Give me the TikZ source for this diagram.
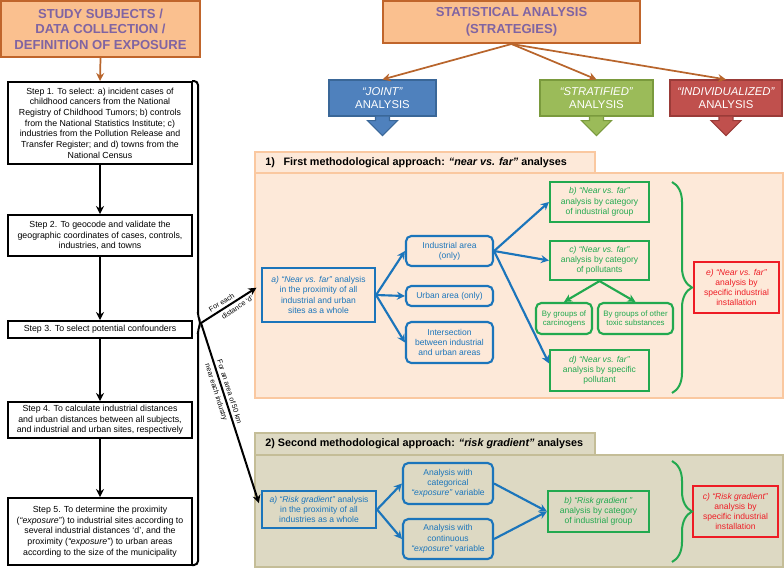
\documentclass[tikz,border=0pt]{standalone}
\usepackage{fontspec}
\setmainfont{Liberation Sans}
\usetikzlibrary{arrows.meta,calc,decorations.pathreplacing}
\definecolor{orangefill}{HTML}{FAC08F}
\definecolor{orangeborder}{HTML}{C0652B}
\definecolor{purpletxt}{HTML}{8064A2}
\definecolor{brownarrow}{HTML}{B8652C}
\definecolor{jointblue}{HTML}{4F81BD}
\definecolor{jointborder}{HTML}{3A6798}
\definecolor{stratgreen}{HTML}{9BBB59}
\definecolor{stratborder}{HTML}{7A9A3D}
\definecolor{indred}{HTML}{C0504D}
\definecolor{indborder}{HTML}{9A3B38}
\definecolor{peach}{HTML}{FDE9D9}
\definecolor{peachborder}{HTML}{FAC8A0}
\definecolor{khaki}{HTML}{DDD9C3}
\definecolor{khakiborder}{HTML}{C4BD97}
\definecolor{nodeblue}{HTML}{1B75BB}
\definecolor{nodegreen}{HTML}{22A94F}
\definecolor{nodered}{HTML}{EE1C25}
\tikzset{
  bxat/.style n args={4}{minimum width={(#3-#1)*0.75pt}, minimum height={(#4-#2)*0.75pt}, at={({(#1+#3)/2},{(#2+#4)/2})}},
  box/.style={inner sep=0pt, align=center},
  hdr/.style={box, draw=orangeborder, fill=orangefill, line width=1.5pt, text=purpletxt, font=\fontsize{9.8}{11.5}\selectfont\bfseries},
  stepbox/.style={box, draw=black, fill=white, line width=1.5pt, font=\fontsize{6.6}{8}\selectfont},
  stratbox/.style={box, line width=0.8pt, text=white, font=\fontsize{8.5}{10}\selectfont},
  tabbox/.style={box, line width=1.5pt},
  nodefont/.style={font=\fontsize{6.4}{7.7}\selectfont},
  smallfont/.style={font=\fontsize{5.9}{6.8}\selectfont},
  bluebox/.style={box, nodefont, draw=nodeblue, text=nodeblue, line width=1.6pt},
  blueround/.style={bluebox, rounded corners=4pt},
  greenbox/.style={box, nodefont, draw=nodegreen, text=nodegreen, line width=1.6pt},
  greenround/.style={greenbox, smallfont, rounded corners=4pt},
  redbox/.style={box, nodefont, draw=nodered, text=nodered, line width=1.6pt},
  bluearrow/.style={-{Stealth[length=6pt,width=6pt]}, line width=1.6pt, draw=nodeblue},
  greenarrow/.style={-{Stealth[length=6pt,width=6pt]}, line width=1.6pt, draw=nodegreen},
  blackarrow/.style={-{Stealth[length=6pt,width=6pt]}, line width=1.5pt, draw=black},
  brownarr/.style={-{Stealth[length=6pt,width=6pt]}, line width=1.3pt, draw=brownarrow},
  greenbrace/.style={decorate, decoration={brace, amplitude=15pt}, line width=1.5pt, draw=nodegreen},
  lbl/.style={font=\fontsize{5.4}{6.5}\selectfont, inner sep=2pt}
}
\begin{document}
\begin{tikzpicture}[x=0.75pt,y=-0.75pt]
\useasboundingbox (0,0) rectangle (784,568);

% ---------- left column ----------
\node[hdr, bxat={1}{1}{200}{57}] (hl) {STUDY SUBJECTS /\\DATA COLLECTION /\\DEFINITION OF EXPOSURE};
\node[stepbox, bxat={8}{82}{192}{164}] (s1) {Step 1. To select: a) incident cases of\\childhood cancers from the National\\Registry of Childhood Tumors; b) controls\\from the National Statistics Institute; c)\\industries from the Pollution Release and\\Transfer Register; and d) towns from the\\National Census};
\node[stepbox, bxat={8}{215}{192}{256}] (s2) {Step 2. To geocode and validate the\\geographic coordinates of cases, controls,\\industries, and towns};
\node[stepbox, bxat={8}{321}{192}{338}] (s3) {Step 3. To select potential confounders};
\node[stepbox, bxat={8}{402}{192}{438}] (s4) {Step 4. To calculate industrial distances\\and urban distances between all subjects,\\and industrial and urban sites, respectively};
\node[stepbox, bxat={8}{498}{192}{565}] (s5) {Step 5. To determine the proximity\\(\textit{“exposure”}) to industrial sites according to\\several industrial distances ‘d’, and the\\proximity (\textit{“exposure”}) to urban areas\\according to the size of the municipality};

\draw[brownarr] (hl.south) -- (s1.north);
\draw[blackarrow] (s1.south) -- (s2.north);
\draw[blackarrow] (s2.south) -- (s3.north);
\draw[blackarrow] (s3.south) -- (s4.north);
\draw[blackarrow] (s4.south) -- (s5.north);

% left brace
\coordinate (tip) at (201,323);
\draw[line width=1.5pt, rounded corners=3pt] (192,81) -- (198,81) -- (198,317) -- (tip) -- (198,329) -- (198,565) -- (192,565);

% ---------- right header ----------
\node[hdr, font=\fontsize{9.8}{12.5}\selectfont\bfseries, bxat={383}{1}{640}{43}] (hr) {STATISTICAL ANALYSIS\\(STRATEGIES)};
\node[stratbox, fill=jointblue, draw=jointborder, bxat={329}{80}{436}{116}] (joint) {\textit{“JOINT”}\\ANALYSIS};
\node[stratbox, fill=stratgreen, draw=stratborder, bxat={540}{80}{653}{116}] (strat) {\textit{“STRATIFIED”}\\ANALYSIS};
\node[stratbox, fill=indred, draw=indborder, bxat={670}{80}{782}{116}] (indiv) {\textit{“INDIVIDUALIZED”}\\ANALYSIS};
\draw[brownarr] (hr.south) -- (joint.north);
\draw[brownarr] (hr.south) -- (strat.north);
\draw[brownarr] (hr.south) -- (indiv.north);

\filldraw[shift={(joint.south)}, fill=jointblue, draw=jointborder, line width=0.8pt] (-7,0) -- (-7,4) -- (-15,4) -- (0,19) -- (15,4) -- (7,4) -- (7,0);
\filldraw[shift={(strat.south)}, fill=stratgreen, draw=stratborder, line width=0.8pt] (-7,0) -- (-7,4) -- (-15,4) -- (0,19) -- (15,4) -- (7,4) -- (7,0);
\filldraw[shift={(indiv.south)}, fill=indred, draw=indborder, line width=0.8pt] (-7,0) -- (-7,4) -- (-15,4) -- (0,19) -- (15,4) -- (7,4) -- (7,0);

% ---------- section 1 ----------
\node[tabbox, draw=peachborder, fill=peach, bxat={255}{152}{595}{173}] (tab1) {};
\node[tabbox, draw=peachborder, fill=peach, bxat={255}{173}{783}{398}] (pan1) {};
\node[anchor=west, inner sep=0pt, font=\fontsize{8.1}{9}\selectfont\bfseries] (title1) at (265,163) {1)\hspace{0.8em}First methodological approach: \textit{“near vs. far”} analyses};

\node[bluebox, bxat={262}{268}{375}{322}] (a1) {\textit{a) “Near vs. far”} analysis\\in the proximity of all\\industrial and urban\\sites as a whole};
\node[blueround, bxat={406}{236}{493}{266}] (ind) {Industrial area\\(only)};
\node[blueround, bxat={406}{286}{493}{306}] (urb) {Urban area (only)};
\node[blueround, bxat={406}{322}{493}{363}] (inter) {Intersection\\between industrial\\and urban areas};
\node[greenbox, bxat={550}{182}{649}{222}] (b1) {\textit{b) “Near vs. far”}\\analysis by category\\of industrial group};
\node[greenbox, bxat={550}{241}{649}{280}] (c1) {\textit{c) “Near vs. far”}\\analysis by category\\of pollutants};
\node[greenround, bxat={536}{303}{592}{334}] (carc) {By groups of\\carcinogens};
\node[greenround, bxat={598}{303}{673}{334}] (tox) {By groups of other\\toxic substances};
\node[greenbox, bxat={550}{350}{649}{391}] (d1) {\textit{d) “Near vs. far”}\\analysis by specific\\pollutant};
\node[redbox, bxat={694}{262}{779}{313}] (e1) {\textit{e) “Near vs. far”}\\analysis by\\specific industrial\\installation};

\draw[bluearrow] (a1.east) -- (ind.west);
\draw[bluearrow] (a1.east) -- (urb.west);
\draw[bluearrow] (a1.east) -- (inter.west);
\draw[bluearrow] (ind.east) -- (b1.west);
\draw[bluearrow] (ind.east) -- (c1.west);
\draw[bluearrow] (ind.east) -- (d1.172);
\draw[greenarrow] (c1.south) -- (carc.north);
\draw[greenarrow] (c1.south) -- (tox.north);
\draw[greenbrace] (672,182) -- (672,393);

% ---------- section 2 ----------
\node[tabbox, draw=khakiborder, fill=khaki, bxat={255}{433}{595}{455}] (tab2) {};
\node[tabbox, draw=khakiborder, fill=khaki, bxat={255}{455}{783}{567}] (pan2) {};
\node[anchor=west, inner sep=0pt, font=\fontsize{8.1}{9}\selectfont\bfseries] (title2) at (265,444) {2) Second methodological approach: \textit{“risk gradient”} analyses};

\node[bluebox, bxat={262}{491}{376}{528}] (a2) {\textit{a) “Risk gradient”} analysis\\in the proximity of all\\industries as a whole};
\node[blueround, bxat={403}{463}{493}{504}] (cat) {Analysis with\\categorical\\\textit{“exposure”} variable};
\node[blueround, bxat={403}{519}{493}{559}] (cont) {Analysis with\\continuous\\\textit{“exposure”} variable};
\node[greenbox, bxat={548}{491}{649}{532}] (b2) {\textit{b) “Risk gradient ”}\\analysis by category\\of industrial group};
\node[redbox, bxat={693}{486}{778}{537}] (c2) {\textit{c) “Risk gradient”}\\analysis by\\specific industrial\\installation};

\draw[bluearrow] (a2.east) -- (cat.west);
\draw[bluearrow] (a2.east) -- (cont.west);
\draw[bluearrow] (cat.east) -- (b2.west);
\draw[bluearrow] (cont.east) -- (b2.west);
\draw[greenbrace] (672,461) -- (672,562);

% ---------- black connectors ----------
\draw[blackarrow, shorten >=4pt] (tip) -- (a1.170)
  node[lbl, sloped, above, pos=0.4] {For each}
  node[lbl, sloped, below, pos=0.55] {distance ‘d’};
\draw[blackarrow, shorten >=5pt] (tip) -- (a2.west)
  node[lbl, sloped, above, pos=0.38] {For an area of 50 km}
  node[lbl, sloped, below, pos=0.36] {near each industry};
\end{tikzpicture}
\end{document}
